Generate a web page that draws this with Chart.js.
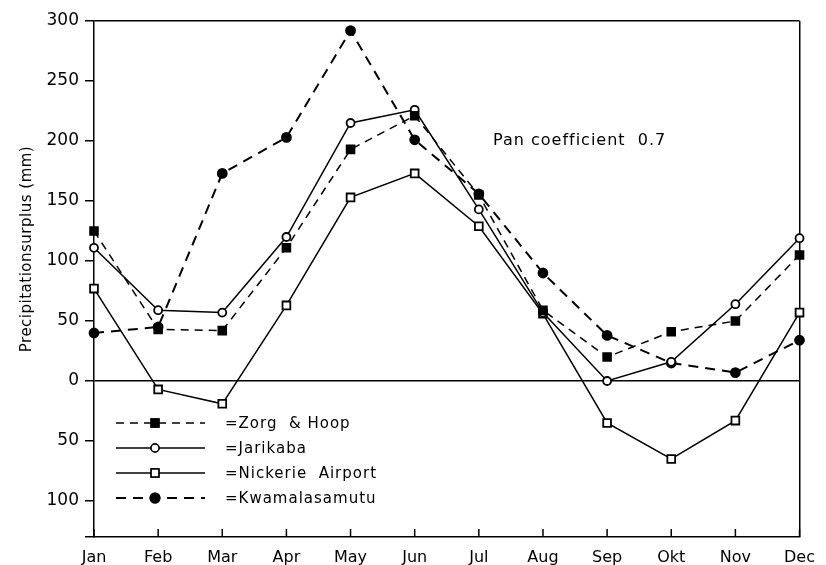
<!DOCTYPE html>
<html>
<head>
<meta charset="utf-8">
<script src="https://cdn.jsdelivr.net/npm/chart.js@4.4.1/dist/chart.umd.min.js"></script>
<style>
  html, body { margin: 0; padding: 0; background: #fff; }
  #wrap { width: 826px; height: 565px; position: relative; }
</style>
</head>
<body>
<div id="wrap"><canvas id="chart"></canvas></div>
<script>
// ── data ─────────────────────────────────────────────────────────────────────
const months = ["Jan", "Feb", "Mar", "Apr", "May", "Jun", "Jul", "Aug", "Sep", "Okt", "Nov", "Dec"]

const zorgHoop        = [125, 43, 42, 111, 193, 221, 155, 59, 20, 41, 50, 105]
const jarikaba        = [111, 59, 57, 120, 215, 226, 143, 57, 0, 16, 64, 119]
const nickerieAirport = [77, -7, -19, 63, 153, 173, 129, 56, -35, -65, -33, 57]
const kwamalasamutu   = [40, 45, 173, 203, 292, 201, 156, 90, 38, 15, 7, 34]

const yTicks = [300, 250, 200, 150, 100, 50, 0, -50, -100]
const note = "Pan coefficient  0.7"
const yTitle = "Precipitationsurplus (mm)"

const FONT = "'DejaVu Sans', sans-serif"

// ── series styling ───────────────────────────────────────────────────────────
const series = [
  { label: "=Zorg  & Hoop",      data: zorgHoop,        dash: [8, 6],  width: 1.5, style: "rect",   radius: 5.5, fill: "#000" },
  { label: "=Jarikaba",          data: jarikaba,        dash: [],      width: 1.5, style: "circle", radius: 4,   fill: "#fff" },
  { label: "=Nickerie  Airport", data: nickerieAirport, dash: [],      width: 1.5, style: "rect",   radius: 5.5, fill: "#fff" },
  { label: "=Kwamalasamutu",     data: kwamalasamutu,   dash: [10, 7], width: 2,   style: "circle", radius: 4.5, fill: "#000" }
]

const datasets = series.map(s => ({
  label: s.label,
  data: s.data,
  borderColor: "#000",
  borderWidth: s.width,
  borderDash: s.dash,
  pointStyle: s.style,
  pointRadius: s.radius,
  pointBackgroundColor: s.fill,
  pointBorderColor: "#000",
  pointBorderWidth: 1.8,
  tension: 0,
  fill: false
}))

// ── custom drawing: inward x ticks, legend, notes ───────────────────────────
const decorations = {
  id: "decorations",
  afterDraw(chart) {
    const { ctx, chartArea: a, scales: { x } } = chart
    ctx.save()
    ctx.strokeStyle = "#000"
    ctx.fillStyle = "#000"
    ctx.lineWidth = 1.5

    // x tick marks pointing up into the plot
    x.ticks.forEach((t, i) => {
      const px = x.getPixelForTick(i)
      ctx.beginPath()
      ctx.moveTo(px, a.bottom)
      ctx.lineTo(px, a.bottom - 8)
      ctx.stroke()
    })

    // legend, drawn in the lower-left of the plot
    const rowY = [423, 448, 473, 498]
    series.forEach((s, i) => {
      const ly = rowY[i]
      ctx.lineWidth = s.width
      ctx.setLineDash(s.dash)
      ctx.beginPath()
      ctx.moveTo(116, ly)
      ctx.lineTo(205, ly)
      ctx.stroke()
      ctx.setLineDash([])
      Chart.helpers.drawPoint(ctx, {
        pointStyle: s.style, radius: s.radius, borderWidth: 1.8
      }, 155, ly)
      ctx.fillStyle = s.fill
      ctx.fill()
      ctx.stroke()
      ctx.fillStyle = "#000"
      ctx.font = "15px " + FONT
      ctx.letterSpacing = "1px"
      ctx.textAlign = "left"
      ctx.textBaseline = "middle"
      ctx.fillText(s.label, 225, ly + 1)
    })

    // annotation
    ctx.font = "16px " + FONT
    ctx.letterSpacing = "1px"
    ctx.textAlign = "left"
    ctx.textBaseline = "middle"
    ctx.fillText(note, 493, 141)

    // y axis title
    ctx.translate(27, 249)
    ctx.rotate(-Math.PI / 2)
    ctx.textAlign = "center"
    ctx.font = "15px " + FONT
    ctx.letterSpacing = "0.5px"
    ctx.fillText(yTitle, 0, 0)
    ctx.restore()
  }
}

new Chart(document.getElementById("chart"), {
  type: "line",
  data: { labels: months, datasets },
  plugins: [decorations],
  options: {
    responsive: true,
    maintainAspectRatio: false,
    animation: false,
    layout: { padding: { top: 21, right: 20, left: 0, bottom: 0 } },
    plugins: { legend: { display: false }, tooltip: { enabled: false } },
    scales: {
      x: {
        offset: false,
        afterFit: s => { s.height = 28 },
        border: { color: "#000", width: 1.5 },
        grid: {
          drawTicks: false,
          lineWidth: 1.5,
          color: c => c.index === months.length - 1 ? "#000" : "rgba(0,0,0,0)"
        },
        ticks: { color: "#000", padding: 11, maxRotation: 0, font: { family: FONT, size: 16 } }
      },
      y: {
        min: -130,
        max: 300,
        afterFit: s => { s.width = 94 },
        afterBuildTicks: s => {
          s.ticks = yTicks.map(v => ({ value: v })).concat([{ value: -130 }])
        },
        border: { color: "#000", width: 1.5 },
        grid: {
          lineWidth: 1.5,
          tickLength: 9,
          tickColor: "#000",
          color: c => (c.tick && (c.tick.value === 0 || c.tick.value === 300)) ? "#000" : "rgba(0,0,0,0)"
        },
        ticks: {
          color: "#000",
          padding: 6,
          font: { family: FONT, size: 17 },
          callback: v => v % 50 === 0 ? Math.abs(v) : ""
        }
      }
    }
  }
})
</script>
</body>
</html>
